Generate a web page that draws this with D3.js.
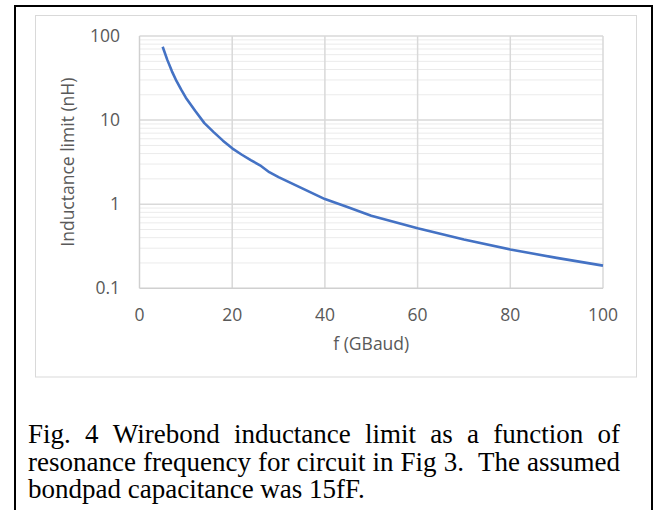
<!DOCTYPE html>
<html><head><meta charset="utf-8">
<script src="https://cdn.jsdelivr.net/npm/d3@7"></script>
<style>html,body{margin:0;padding:0;background:#fff;overflow:hidden}</style>
</head><body>
<svg id="c" width="657" height="510"></svg>
<script>
// Data
const freq = [5, 6, 7, 8, 9, 10, 12, 14, 16, 18, 20, 22, 24, 26, 28, 30, 35, 40, 45, 50, 60, 70, 80, 90, 100];
const inductance = [74.6, 52, 38, 29, 23, 18.5, 12.9, 9.2, 7.2, 5.7, 4.62, 3.9, 3.35, 2.9, 2.4, 2.1, 1.55, 1.15, 0.92, 0.73, 0.517, 0.38, 0.29, 0.23, 0.186];
const xTicks = [0, 20, 40, 60, 80, 100];
const yTicks = [0.1, 1, 10, 100];
const yTickLabels = ["0.1", "1", "10", "100"];
const xTitle = "f (GBaud)";
const yTitle = "Inductance limit (nH)";
const captionLines = [
  "Fig. 4 Wirebond inductance limit as a function of",
  "resonance frequency for circuit in Fig 3.  The assumed",
  "bondpad capacitance was 15fF."
];

const svg = d3.select("#c");
const FONT = "'Open Sans', sans-serif";
const GRAY = "#595959";

// outer black frame
svg.append("rect").attr("x", 15).attr("y", 6).attr("width", 637).attr("height", 600)
  .attr("fill", "none").attr("stroke", "#000").attr("stroke-width", 2);

// chart frame
svg.append("rect").attr("x", 35.5).attr("y", 15.5).attr("width", 601).attr("height", 361.5)
  .attr("fill", "#fff").attr("stroke", "#d9d9d9").attr("stroke-width", 1);

const L = 139.5, R = 603, T = 36, B = 288.3;
const x = d3.scaleLinear().domain([0, 100]).range([L, R]);
const y = d3.scaleLog().domain([0.1, 100]).range([B, T]);

// minor gridlines
const minor = [];
[0.1, 1, 10].forEach(d => { for (let k = 2; k <= 9; k++) minor.push(d * k); });
svg.append("g").selectAll("line").data(minor).join("line")
  .attr("x1", L).attr("x2", R).attr("y1", d => y(d)).attr("y2", d => y(d))
  .attr("stroke", "#ebebeb").attr("stroke-width", 1);

// major horizontal gridlines
svg.append("g").selectAll("line").data(yTicks.slice(1)).join("line")
  .attr("x1", L).attr("x2", R).attr("y1", d => y(d)).attr("y2", d => y(d))
  .attr("stroke", "#d9d9d9").attr("stroke-width", 1.5);

// vertical gridlines
svg.append("g").selectAll("line").data(xTicks.slice(1)).join("line")
  .attr("x1", d => x(d)).attr("x2", d => x(d)).attr("y1", T).attr("y2", B)
  .attr("stroke", "#d9d9d9").attr("stroke-width", 1.5);

// axes lines (left and bottom)
svg.append("line").attr("x1", L).attr("x2", L).attr("y1", T).attr("y2", B)
  .attr("stroke", "#d0d0d0").attr("stroke-width", 1.5);
svg.append("line").attr("x1", L).attr("x2", R).attr("y1", B).attr("y2", B)
  .attr("stroke", "#d0d0d0").attr("stroke-width", 1.5);

// tick labels
svg.append("g").selectAll("text").data(yTicks).join("text")
  .attr("x", 120).attr("y", d => y(d)).attr("dy", "0.35em")
  .attr("text-anchor", "end").attr("font-family", FONT).attr("font-size", 17.5)
  .attr("fill", GRAY).text((d, i) => yTickLabels[i]);

svg.append("g").selectAll("text").data(xTicks).join("text")
  .attr("x", d => x(d)).attr("y", 320.5)
  .attr("text-anchor", "middle").attr("font-family", FONT).attr("font-size", 17.5)
  .attr("fill", GRAY).text(d => d);

// axis titles
svg.append("text").attr("x", (L + R) / 2).attr("y", 349.5).attr("text-anchor", "middle")
  .attr("font-family", FONT).attr("font-size", 17.5).attr("fill", GRAY).text(xTitle);
svg.append("text").attr("transform", `translate(74,${(T + B) / 2}) rotate(-90)`)
  .attr("text-anchor", "middle").attr("font-family", FONT).attr("font-size", 17.5)
  .attr("fill", GRAY).text(yTitle);

// series line
const line = d3.line().x((d, i) => x(freq[i])).y(d => y(d));
svg.append("path").datum(inductance).attr("d", line)
  .attr("fill", "none").attr("stroke", "#4472C4").attr("stroke-width", 2.6)
  .attr("stroke-linejoin", "round").attr("stroke-linecap", "butt");

// caption (justified first two lines; a double space counts as two gaps)
const capX0 = 28, capX1 = 620, capY = [443.3, 470.7, 497.8];
const SERIF = "'Liberation Serif', 'Times New Roman', serif";
captionLines.forEach((ln, li) => {
  const g = svg.append("g");
  if (li === captionLines.length - 1) {
    g.append("text").attr("x", capX0).attr("y", capY[li]).attr("font-family", SERIF)
      .attr("font-size", 27).attr("fill", "#000").text(ln);
    return;
  }
  const tokens = ln.split(" ");
  const texts = tokens.map(w => g.append("text").attr("y", capY[li]).attr("font-family", SERIF)
      .attr("font-size", 27).attr("fill", "#000").text(w));
  const widths = texts.map((t, i) => tokens[i] ? t.node().getComputedTextLength() : 0);
  const total = d3.sum(widths);
  const gap = (capX1 - capX0 - total) / (tokens.length - 1);
  let cx = capX0;
  texts.forEach((t, i) => { t.attr("x", cx); cx += widths[i] + gap; });
});
</script>
</body></html>
